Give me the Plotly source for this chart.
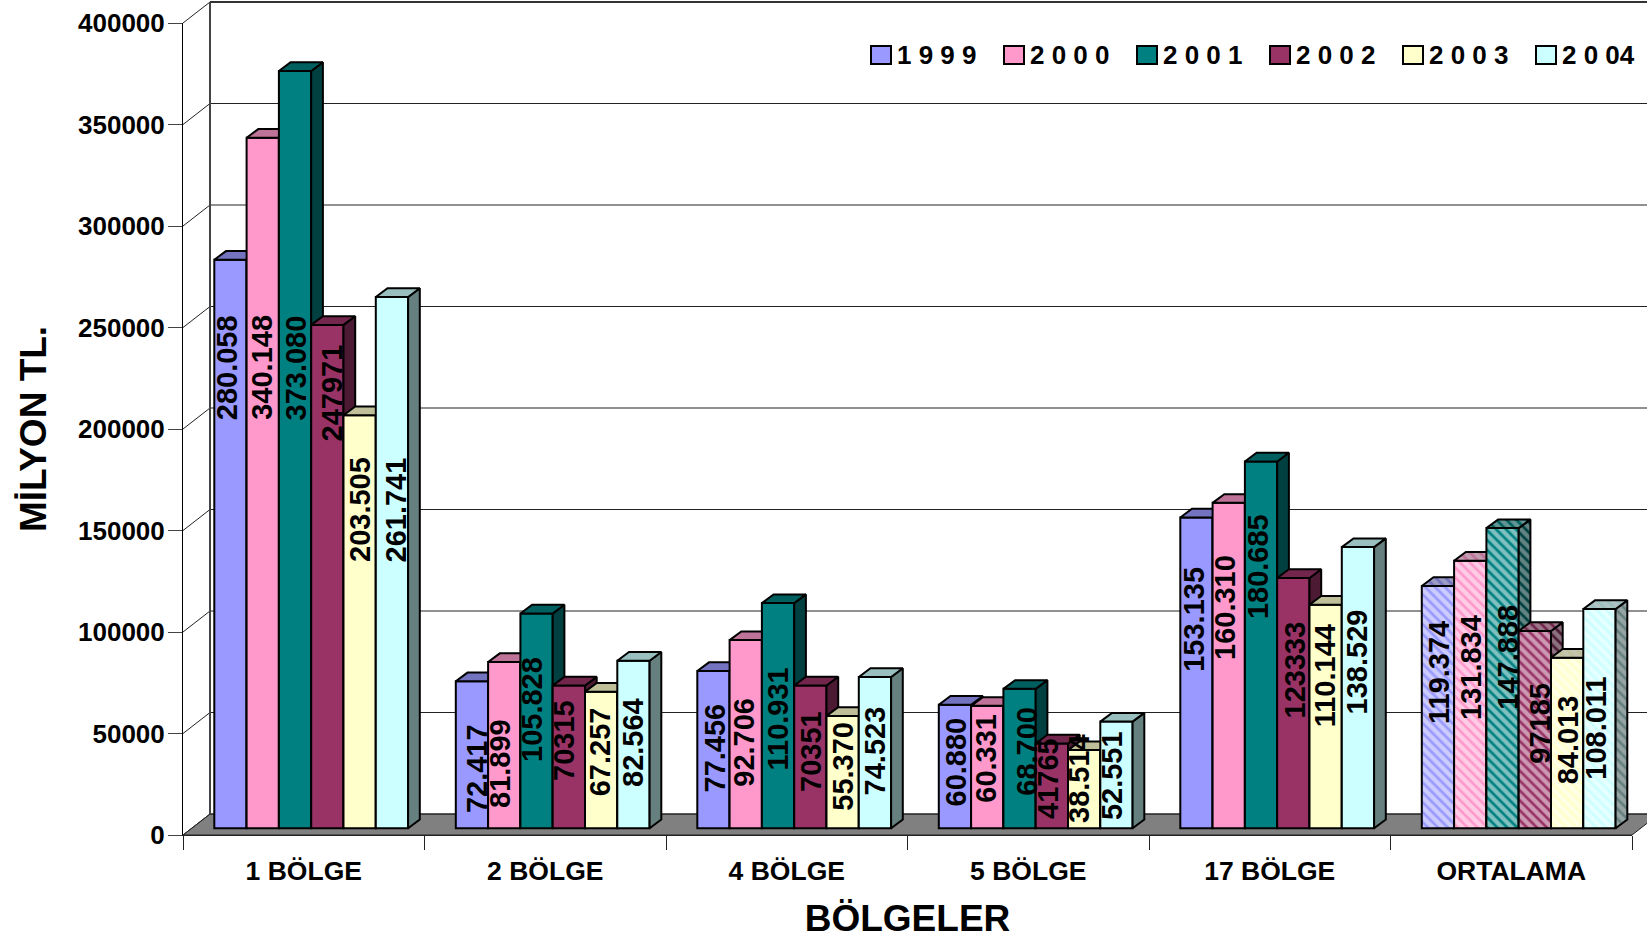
import plotly.graph_objects as go

categories = ["1 BÖLGE", "2 BÖLGE", "4 BÖLGE", "5 BÖLGE", "17 BÖLGE", "ORTALAMA"]
series_names = ["1 9 9 9", "2 0 0 0", "2 0 0 1", "2 0 0 2", "2 0 0 3", "2 0 04"]

v1999 = [280058, 72417, 77456, 60880, 153135, 119374]
v2000 = [340148, 81899, 92706, 60331, 160310, 131834]
v2001 = [373080, 105828, 110931, 68700, 180685, 147888]
v2002 = [247971, 70315, 70351, 41765, 123333, 97185]
v2003 = [203505, 67257, 55370, 38514, 110144, 84013]
v2004 = [261741, 82564, 74523, 52551, 138529, 108011]

l1999 = ["280.058", "72.417", "77.456", "60.880", "153.135", "119.374"]
l2000 = ["340.148", "81.899", "92.706", "60.331", "160.310", "131.834"]
l2001 = ["373.080", "105.828", "110.931", "68.700", "180.685", "147.888"]
l2002 = ["247971", "70315", "70351", "41765", "123333", "97185"]
l2003 = ["203.505", "67.257", "55.370", "38.514", "110.144", "84.013"]
l2004 = ["261.741", "82.564", "74.523", "52.551", "138.529", "108.011"]

y_ticks = [0, 50000, 100000, 150000, 200000, 250000, 300000, 350000, 400000]

all_values = [v1999, v2000, v2001, v2002, v2003, v2004]
all_labels = [l1999, l2000, l2001, l2002, l2003, l2004]

# ---- styling / layout (separate from the data) ----
colors = [(153, 153, 255), (255, 153, 204), (0, 128, 128), (153, 51, 102), (255, 255, 204), (204, 255, 255)]
W, H = 1647, 939
PX0, PX1, PY0, PY1 = 183, 1632, 835, 23     # plot area in pixels
UX = (PX1 - PX0) / 6                        # pixels per category
UY = (PY0 - PY1) / 400000                   # pixels per value unit
wall_dx, wall_dy = 27 / UX, 21 / UY         # depth of the floor
bar_dx, bar_dy = 11.7 / UX, 8.7 / UY        # depth of one bar
bar_base = 6.7 / UY                         # bars stand inside the floor
bar_w = 32.3 / UX
bar_left = 31.3 / UX
HATCH = 5                                   # index of the hatched category
FONT = "Liberation Sans"
XR, YR = [0, 6], [0, 400000]

# label centres, per series then per category (pixels)
label_px = [
    [226.7, 476.8, 714.5, 955.5, 1193.8, 1439.7],
    [261.3, 500.0, 744.0, 986.0, 1225.0, 1471.7],
    [295.5, 532.0, 777.5, 1027.0, 1257.8, 1507.7],
    [331.0, 564.0, 811.0, 1048.7, 1294.5, 1539.7],
    [360.0, 599.6, 843.0, 1079.0, 1325.0, 1568.3],
    [395.5, 633.0, 874.7, 1112.7, 1356.7, 1595.7],
]
label_py = [
    [367.5, 768.3, 748.0, 762.0, 619.0, 672.3],
    [367.5, 764.0, 742.7, 758.7, 608.0, 667.3],
    [368.0, 710.0, 719.0, 751.7, 566.3, 657.0],
    [393.5, 741.0, 752.0, 778.3, 670.0, 723.0],
    [510.0, 751.7, 766.7, 779.0, 676.3, 740.0],
    [510.0, 743.0, 750.7, 775.4, 661.7, 728.0],
]


def rgb(c, k=1.0):
    return "rgb(%d,%d,%d)" % tuple(round(v * k) for v in c)


def polys(rects):
    xs, ys = [], []
    for rx, ry in rects:
        xs += rx + [rx[0], None]
        ys += ry + [ry[0], None]
    return xs, ys


def xp(x):
    return x / XR[1]


def yp(y):
    return y / YR[1]


shapes = []


def wall_line(x0, y0, x1, y1, color, width):
    shapes.append(dict(type="line", xref="paper", yref="paper", layer="below",
                       x0=xp(x0), y0=yp(y0), x1=xp(x1), y1=yp(y1),
                       line=dict(color=color, width=width)))


# back wall, side wall, floor (behind every trace, free to run past the axes)
shapes.append(dict(type="path", xref="paper", yref="paper", layer="below",
                   path="M %f %f L %f %f L %f %f L %f %f Z" % (
                       xp(0), yp(0), xp(wall_dx), yp(wall_dy),
                       xp(6 + wall_dx), yp(wall_dy), xp(6), yp(0)),
                   fillcolor="#808080", line=dict(color="#222222", width=1)))
for t in y_ticks:
    wall_line(wall_dx, t + wall_dy, 6 + wall_dx, t + wall_dy, "#222222", 1)
    wall_line(0, t, wall_dx, t + wall_dy, "#222222", 1)
wall_line(wall_dx, wall_dy, wall_dx, 400000 + wall_dy, "#444444", 2)
wall_line(wall_dx, 400000 + wall_dy, 6 + wall_dx, 400000 + wall_dy, "#333333", 2)

fig = go.Figure()

layout_axes = {}
for j, values in enumerate(all_values):
    if j == 0:
        xa, ya = "x", "y"
    else:
        n = j + 1
        xa, ya = "x%d" % n, "y%d" % n
        layout_axes["xaxis%d" % n] = dict(overlaying="x", range=XR, visible=False, automargin=False)
        layout_axes["yaxis%d" % n] = dict(overlaying="y", range=YR, visible=False, automargin=False)
    c = colors[j]
    x_left = [i + bar_left + j * bar_w for i in range(6)]
    x_mid = [x + bar_w / 2 for x in x_left]

    fig.add_trace(go.Bar(
        x=x_mid, y=values, base=bar_base, width=bar_w, name=series_names[j], xaxis=xa, yaxis=ya,
        cliponaxis=False, showlegend=False,
        marker=dict(color=rgb(c), line=dict(color="black", width=2),
                    pattern=dict(shape=["\\" if i == HATCH else "" for i in range(6)],
                                 fgcolor="white", bgcolor=rgb(c), size=7, solidity=0.62)),
    ))

    def faces(idx, k_top, k_side, pattern_fg):
        tops, sides = [], []
        for i in idx:
            x0 = x_left[i]
            x1 = x0 + bar_w
            t = values[i] + bar_base
            tops.append(([x0, x0 + bar_dx, x1 + bar_dx, x1], [t, t + bar_dy, t + bar_dy, t]))
            sides.append(([x1, x1 + bar_dx, x1 + bar_dx, x1], [bar_base, bar_base + bar_dy, t + bar_dy, t]))
        for rects, k in ((sides, k_side), (tops, k_top)):
            px, py = polys(rects)
            kw = {}
            if pattern_fg:
                kw["fillpattern"] = dict(shape="\\", fgcolor=pattern_fg, bgcolor=rgb(c, k),
                                         size=7, solidity=0.62)
            fig.add_trace(go.Scatter(x=px, y=py, mode="lines", fill="toself", fillcolor=rgb(c, k),
                                     line=dict(color="black", width=2), xaxis=xa, yaxis=ya,
                                     cliponaxis=False, showlegend=False, hoverinfo="skip", **kw))

    faces([i for i in range(6) if i != HATCH], 0.75, 0.5, None)
    faces([HATCH], 0.75, 0.5, "#c8c8c8")

# value labels
annotations = []
for j in range(6):
    for i in range(6):
        annotations.append(dict(
            x=(label_px[j][i] - PX0) / UX, y=(PY0 - label_py[j][i]) / UY, xref="x", yref="y",
            text=all_labels[j][i], textangle=-90, showarrow=False, xanchor="center", yanchor="middle",
            font=dict(family=FONT, size=29, color="black", weight="bold"),
        ))

# legend row
leg_x0, leg_step = 871, 133
for j, name in enumerate(series_names):
    lx = leg_x0 + j * leg_step
    shapes.append(dict(type="rect", xref="paper", yref="paper",
                       x0=(lx - PX0) / (PX1 - PX0), x1=(lx + 20 - PX0) / (PX1 - PX0),
                       y0=(PY0 - 64) / (PY0 - PY1), y1=(PY0 - 46) / (PY0 - PY1),
                       fillcolor=rgb(colors[j]), line=dict(color="black", width=2)))
    annotations.append(dict(x=(lx + 24 - PX0) / (PX1 - PX0), y=(PY0 - 55.5) / (PY0 - PY1),
                            xref="paper", yref="paper", text=name, showarrow=False,
                            xanchor="left", yanchor="middle",
                            font=dict(family=FONT, size=26, color="black", weight="bold")))

axis_font = dict(family=FONT, size=26, color="black", weight="bold")
title_font = dict(family=FONT, size=37, color="black", weight="bold")

fig.update_layout(
    width=W, height=H, autosize=False,
    margin=dict(l=PX0, r=W - PX1, t=PY1, b=H - PY0, pad=0),
    paper_bgcolor="white", plot_bgcolor="rgba(0,0,0,0)",
    barmode="overlay", showlegend=False,
    annotations=annotations, shapes=shapes,
    xaxis=dict(range=XR, tickmode="array", tickvals=[i + 0.5 for i in range(6)], ticktext=categories,
               ticks="", showgrid=False, zeroline=False, showline=True, linecolor="#222222", linewidth=1,
               tickfont=dict(family=FONT, size=26.5, color="black", weight="bold"),
               ticklabelstandoff=12, automargin=False,
               minor=dict(tickmode="array", tickvals=list(range(7)), ticks="outside", ticklen=14,
                          tickcolor="#222222", tickwidth=1, showgrid=False),
               title=dict(text="BÖLGELER", font=title_font, standoff=21)),
    yaxis=dict(range=YR, tickmode="array", tickvals=y_ticks, ticktext=[str(t) for t in y_ticks],
               ticks="outside", ticklen=14, tickcolor="#444444", tickwidth=1, showgrid=False, zeroline=False,
               showline=True, linecolor="black", linewidth=1, tickfont=axis_font, automargin=False,
               ticklabelstandoff=-2,
               title=dict(text="MİLYON TL.", font=title_font, standoff=20)),
    **layout_axes,
)

fig.write_html("out.html", config={"displayModeBar": False},
               post_script="document.body.style.margin='0';document.body.style.overflow='hidden';")
